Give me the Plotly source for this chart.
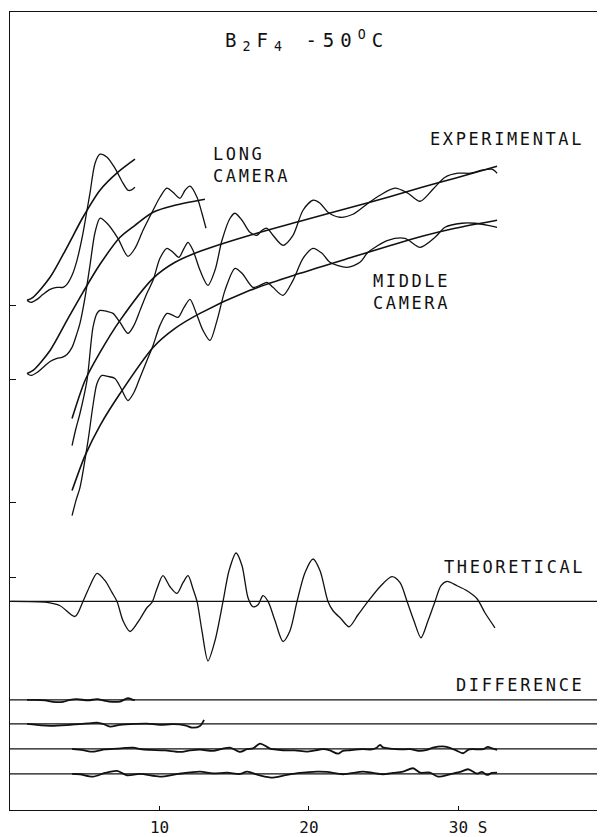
import plotly.graph_objects as go

# ---------------- data (s in scattering units, intensities in arbitrary units, curves offset) ----
theory_s = [0.05, 2.48, 3.35, 4.35, 4.88, 5.35, 5.82, 6.36, 6.82, 7.16, 7.56, 8.03, 8.70, 9.16, 9.50,
            9.83, 10.23, 10.70, 11.17, 11.57, 11.91, 12.24, 12.51, 12.84, 13.24, 13.71, 14.25, 14.65,
            15.12, 15.52, 15.92, 16.25, 16.59, 16.92, 17.26, 17.73, 18.26, 18.73, 19.20, 19.73, 20.27,
            20.74, 21.27, 21.61, 22.14, 22.68, 23.28, 23.95, 24.75, 25.55, 26.09, 26.56, 27.02, 27.49,
            27.96, 28.43, 28.83, 29.23, 29.90, 30.57, 31.24, 31.77, 32.44]
theory_i = [20.83, 20.73, 20.4, 19.33, 20.83, 22.4, 23.63, 22.9, 21.73, 20.83, 18.9, 17.83, 19.1, 20.2, 20.73,
            22.1, 23.4, 22.3, 21.63, 22.7, 23.4, 22.1, 20.83, 17.9, 14.9, 16.9, 20.83, 23.9,
            25.67, 24.4, 21.2, 20.3, 20.5, 21.4, 20.83, 18.9, 16.83, 17.9, 20.83, 23.7, 25.07,
            23.9, 20.83, 19.9, 19.1, 18.3, 19.5, 20.83, 22.3, 23.3, 22.7, 20.83, 18.9, 17.2,
            18.9, 20.83, 22.4, 22.83, 22.4, 21.9, 21.1, 19.7, 18.2]

long1_s = [1.14, 1.40, 1.81, 2.21, 2.68, 3.14, 3.55, 3.81, 4.15, 4.48, 4.88, 5.15, 5.35, 5.69, 6.02,
           6.49, 7.02, 7.56, 7.89, 8.09, 8.36]
long1_i = [50.9, 50.7, 51.0, 51.5, 52.0, 52.2, 52.2, 52.5, 53.4, 54.9, 57.6, 59.9, 61.6, 64.6, 65.5,
           65.2, 64.1, 62.6, 61.9, 61.9, 62.2]
long1_bg_s = [1.14, 1.54, 2.68, 3.81, 4.88, 6.02, 7.22, 8.36]
long1_bg = [50.9, 51.2, 53.2, 56.2, 59.2, 61.9, 63.7, 65.0]

long2_s = [1.14, 1.40, 1.81, 2.21, 2.68, 3.14, 3.48, 3.81, 4.15, 4.48, 4.68, 5.02, 5.35, 5.69, 6.02,
           6.49, 7.22, 7.89, 8.36, 8.90, 9.57, 10.03, 10.50, 10.90, 11.37, 11.71, 12.04, 12.51, 12.84, 13.11]
long2_i = [43.6, 43.4, 43.7, 44.2, 44.8, 45.1, 45.2, 45.5, 46.2, 47.6, 48.6, 51.2, 54.4, 57.7, 59.1,
           58.6, 57.1, 55.3, 56.1, 57.9, 59.9, 61.2, 62.1, 61.7, 61.1, 61.9, 62.3, 61.2, 59.6, 58.1]
long2_bg_s = [1.14, 1.54, 2.68, 3.81, 4.88, 6.02, 7.36, 8.36, 9.57, 11.04, 13.04]
long2_bg = [43.6, 43.9, 45.9, 48.9, 51.7, 54.5, 57.2, 58.4, 59.7, 60.4, 61.0]

mid1_s = [4.15, 4.41, 4.68, 5.15, 5.55, 5.82, 6.02, 6.49, 6.89, 7.36, 7.89, 8.29, 8.70, 9.16, 9.57,
          10.03, 10.50, 10.90, 11.30, 11.64, 11.91, 12.24, 12.71, 13.24, 13.71, 14.18, 14.72, 15.05,
          15.52, 16.05, 16.52, 16.86, 17.19, 17.59, 18.26, 18.93, 19.60, 20.27, 20.74, 21.27, 22.07,
          22.94, 23.95, 24.75, 25.75, 26.62, 27.43, 28.29, 29.10, 29.97, 30.77, 31.57, 32.24, 32.58]
mid1_i = [36.4, 38.1, 39.6, 42.9, 48.2, 49.6, 49.9, 49.8, 49.6, 48.7, 47.6, 48.4, 49.9, 51.6, 52.9,
          55.1, 56.1, 55.7, 55.2, 56.1, 56.7, 55.9, 53.9, 52.4, 53.9, 56.9, 59.1, 59.6,
          58.9, 57.7, 57.4, 57.9, 58.1, 57.4, 56.4, 57.4, 59.9, 60.9, 60.6, 59.7, 59.2,
          59.5, 60.6, 61.4, 62.1, 61.6, 60.8, 62.0, 63.2, 63.6, 63.6, 63.9, 64.0, 63.6]
mid1_bg_s = [4.15, 5.02, 6.02, 7.36, 9.57, 11.04, 12.71, 16.05, 19.40, 23.08, 25.28, 27.56, 29.77, 32.58]
mid1_bg = [39.1, 42.9, 45.7, 48.9, 53.1, 54.7, 55.8, 57.4, 58.8, 60.3, 61.2, 62.2, 63.1, 64.3]

mid2_s = [4.15, 4.41, 4.68, 5.22, 5.55, 5.82, 6.15, 6.56, 7.02, 7.43, 7.89, 8.29, 8.70, 9.16, 9.57,
          10.03, 10.50, 10.90, 11.24, 11.64, 12.04, 12.44, 12.91, 13.38, 13.85, 14.38, 15.05, 15.52,
          16.25, 16.72, 17.19, 17.59, 18.26, 18.93, 19.60, 20.27, 20.87, 21.40, 22.54, 23.41, 23.95,
          25.28, 26.42, 27.43, 28.43, 29.10, 30.23, 31.10, 31.97, 32.58]
mid2_i = [29.4, 30.9, 32.2, 36.9, 40.4, 42.6, 43.4, 43.3, 43.1, 42.1, 40.9, 41.7, 43.2, 44.9, 46.4,
          48.4, 49.6, 49.4, 49.2, 50.2, 51.0, 49.7, 47.9, 46.9, 48.9, 51.9, 54.1, 53.6,
          52.2, 52.4, 52.7, 52.2, 51.4, 52.9, 55.1, 56.1, 55.6, 54.7, 54.2, 54.7, 55.7,
          56.9, 57.1, 56.2, 57.2, 58.2, 58.6, 58.6, 58.4, 58.2]
mid2_bg_s = [4.15, 5.02, 6.02, 7.36, 9.57, 11.04, 12.71, 16.05, 19.40, 23.08, 25.28, 27.56, 29.77, 32.58]
mid2_bg = [31.9, 35.4, 38.4, 41.6, 46.2, 48.1, 49.6, 51.9, 53.6, 55.3, 56.3, 57.3, 58.1, 58.9]

diff1_s = [1.14, 1.54, 2.34, 2.88, 3.55, 4.01, 4.48, 5.22, 5.82, 6.36, 6.82, 7.36, 7.89, 8.23, 8.36]
diff1_i = [11.0, 11.0, 10.95, 10.8, 10.8, 11.0, 11.07, 10.95, 11.07, 10.9, 10.8, 10.83, 11.17, 11.0, 11.0]

diff2_s = [1.14, 2.68, 4.01, 5.22, 5.82, 6.22, 6.69, 7.36, 8.36, 9.16, 10.03, 10.90, 11.71, 12.17, 12.71, 12.98]
diff2_i = [8.6, 8.4, 8.5, 8.65, 8.73, 8.6, 8.33, 8.5, 8.6, 8.63, 8.5, 8.57, 8.45, 8.23, 8.4, 9.0]

diff3_s = [4.15, 4.88, 5.55, 6.36, 7.16, 7.69, 8.23, 8.83, 9.37, 10.37, 11.37, 12.04, 12.71, 13.58,
           14.18, 14.72, 15.39, 15.85, 16.25, 16.72, 17.19, 17.39, 18.26, 19.06, 19.87, 20.40, 20.94,
           21.40, 21.94, 22.27, 22.74, 23.61, 24.21, 24.55, 24.75, 24.95, 25.42, 26.09, 26.76, 27.43,
           27.89, 28.29, 29.10, 29.77, 30.30, 30.64, 30.90, 31.64, 31.97, 32.24, 32.58]
diff3_i = [6.1, 5.97, 5.83, 6.05, 6.13, 6.2, 6.23, 6.05, 6.0, 5.95, 5.8, 5.95, 6.03, 5.9,
           6.1, 6.23, 5.8, 6.07, 6.15, 6.63, 6.3, 6.13, 5.97, 5.95, 5.83, 5.95, 6.07,
           5.95, 5.63, 5.9, 5.97, 6.07, 6.05, 6.25, 6.5, 6.25, 6.13, 6.05, 6.07, 5.9,
           6.0, 6.23, 6.33, 6.0, 5.67, 6.0, 6.07, 6.07, 6.3, 6.15, 6.0]

diff4_s = [4.15, 4.68, 5.55, 6.36, 7.16, 7.83, 8.70, 10.03, 11.24, 12.71, 13.58, 14.52, 15.39, 15.85,
           16.72, 17.59, 18.53, 19.40, 20.54, 21.20, 22.27, 23.61, 24.28, 24.95, 25.62, 26.29, 26.96,
           27.43, 28.09, 28.63, 29.43, 30.10, 30.64, 31.24, 31.57, 31.91, 32.24, 32.58]
diff4_i = [3.6, 3.57, 3.33, 3.7, 3.9, 3.47, 3.6, 3.33, 3.6, 3.83, 3.65, 3.73, 3.6, 3.83,
           3.45, 3.23, 3.5, 3.7, 3.83, 3.8, 3.57, 3.83, 3.7, 3.57, 3.7, 3.83, 4.17,
           3.73, 3.73, 3.33, 3.57, 3.8, 4.07, 3.63, 3.8, 3.5, 3.7, 3.73]

zero_levels = [20.83, 11.0, 8.6, 6.1, 3.6]
y_tick_vals = [50.4, 43.0, 30.7, 23.2]
x_tick_vals = [10, 20, 30]
x_tick_text = ["10", "20", "\u00a0\u00a030 S"]

# ---------------- figure ----------------
FONT = "DejaVu Sans Mono"
INK = "#111111"


def sp(text, ls):
    return f'<span style="letter-spacing:{ls}px">{text}</span>'


fig = go.Figure()

curves = [
    (long1_s, long1_i, 1.3), (long1_bg_s, long1_bg, 1.6),
    (long2_s, long2_i, 1.3), (long2_bg_s, long2_bg, 1.6),
    (mid1_s, mid1_i, 1.3), (mid1_bg_s, mid1_bg, 1.6),
    (mid2_s, mid2_i, 1.3), (mid2_bg_s, mid2_bg, 1.6),
    (theory_s, theory_i, 1.3),
    (diff1_s, diff1_i, 1.8), (diff2_s, diff2_i, 1.8),
    (diff3_s, diff3_i, 1.8), (diff4_s, diff4_i, 1.8),
]
for xs, ys, w in curves:
    fig.add_trace(go.Scatter(x=xs, y=ys, mode="lines",
                             line=dict(color=INK, width=w, shape="spline", smoothing=0.8),
                             hoverinfo="skip", showlegend=False))

for lvl in zero_levels:
    fig.add_shape(type="line", xref="paper", x0=0, x1=1, yref="y", y0=lvl, y1=lvl,
                  line=dict(color=INK, width=1.3), layer="below")

LS = 17
lab_font = dict(family=FONT, size=LS, color=INK)
ann = dict(showarrow=False, xref="x", yref="y", yanchor="middle", align="left", font=lab_font)
fig.add_annotation(x=19.85, y=76.9, xanchor="center", align="center",
                   text=sp("B<sub>2</sub>F<sub>4</sub>\u00a0-50<sup>O</sup>C", 6),
                   showarrow=False, xref="x", yref="y", yanchor="middle",
                   font=dict(family=FONT, size=19, color=INK))
fig.add_annotation(x=13.44, y=64.45, xanchor="left", text=sp("LONG<br>CAMERA", 2.6), **ann)
fig.add_annotation(x=27.96, y=67.0, xanchor="left", text=sp("EXPERIMENTAL", 2.6), **ann)
fig.add_annotation(x=24.15, y=51.75, xanchor="left", text=sp("MIDDLE<br>CAMERA", 2.6), **ann)
fig.add_annotation(x=28.90, y=24.25, xanchor="left", text=sp("THEORETICAL", 2.6), **ann)
fig.add_annotation(x=29.70, y=12.5, xanchor="left", text=sp("DIFFERENCE", 2.6), **ann)

# the page body adds an 8 px offset, so the figure is 8 px smaller than the 605x837 window
fig.update_layout(
    width=597, height=829,
    margin=dict(l=2, r=0, t=4, b=20),
    paper_bgcolor="white", plot_bgcolor="white",
    font=dict(family=FONT, color=INK),
    xaxis=dict(range=[0, 39.8], showgrid=False, zeroline=False, showline=True, linecolor=INK,
               linewidth=1.2, mirror=True, ticks="inside", ticklen=4, tickcolor=INK,
               tickvals=x_tick_vals, ticktext=x_tick_text,
               tickfont=dict(family=FONT, size=16, color=INK), ticklabelstandoff=3),
    yaxis=dict(range=[0, 79.7], showgrid=False, zeroline=False, showline=True, linecolor=INK,
               linewidth=1.2, mirror=False, ticks="inside", ticklen=6, tickcolor=INK,
               tickvals=y_tick_vals, showticklabels=False),
)

fig.write_html("out.html")
